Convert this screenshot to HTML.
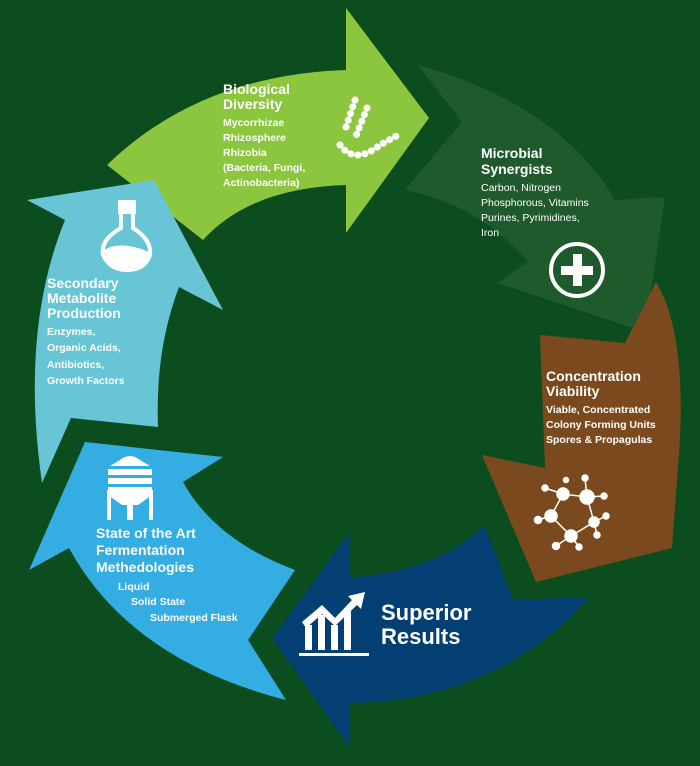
<!DOCTYPE html>
<html><head><meta charset="utf-8"><style>
html,body{margin:0;padding:0;background:#0c4d1f;}
svg{display:block}
text{font-family:"Liberation Sans",sans-serif;fill:#fff;}
.h{font-weight:bold;font-size:14px}
.s{font-size:10.5px;font-weight:bold}
.r{font-size:10.5px}
</style></head><body>
<svg width="700" height="766" viewBox="0 0 700 766" xmlns="http://www.w3.org/2000/svg">
<rect width="700" height="766" fill="#0c4d1f"/>
<!-- dark green -->
<path d="M418,65 Q560,105 615,200 L665,197 L645,332 L498,283 L528,262 Q480,205 405,190 L462,122 Z" fill="#1e5a2c"/>
<!-- light green -->
<path d="M107,165 Q200,75 346,70 L346,8 L429,118 L346,233 L346,185 Q250,188 203,240 Z" fill="#8cc63f"/>
<!-- brown -->
<path d="M540,335 L625,343 L656,282 Q685,330 680,440 L672,548 L536,582 L482,455 L545,468 Z" fill="#7a4a1e"/>
<!-- navy -->
<path d="M484,525 L513,600 L589,597 Q500,700 350,703 L350,748 L272,638 L350,532 L350,578 Q440,570 484,525 Z" fill="#033f72"/>
<!-- blue -->
<path d="M85,442 L223,457 L183,482 Q215,540 295,570 L248,640 L286,700 Q130,660 69,548 L29,570 Z" fill="#34ade2"/>
<!-- light blue -->
<path d="M154,180 L223,310 L179,287 Q155,350 158,427 L71,418 L42,483 Q20,330 65,220 L27,200 Z" fill="#67c5d5"/>

<!-- texts -->
<text class="h" x="223" y="94">Biological</text>
<text class="h" x="223" y="109">Diversity</text>
<text class="s" x="223" y="126">Mycorrhizae</text>
<text class="s" x="223" y="141">Rhizosphere</text>
<text class="s" x="223" y="156">Rhizobia</text>
<text class="s" x="223" y="171">(Bacteria, Fungi,</text>
<text class="s" x="223" y="186">Actinobacteria)</text>

<text class="h" x="481" y="158">Microbial</text>
<text class="h" x="481" y="174">Synergists</text>
<text class="r" x="481" y="191">Carbon, Nitrogen</text>
<text class="r" x="481" y="206">Phosphorous, Vitamins</text>
<text class="r" x="481" y="221">Purines, Pyrimidines,</text>
<text class="r" x="481" y="236">Iron</text>

<text class="h" x="47" y="288">Secondary</text>
<text class="h" x="47" y="303">Metabolite</text>
<text class="h" x="47" y="318">Production</text>
<text class="s" x="47" y="335">Enzymes,</text>
<text class="s" x="47" y="351">Organic Acids,</text>
<text class="s" x="47" y="368">Antibiotics,</text>
<text class="s" x="47" y="384">Growth Factors</text>

<text class="h" x="546" y="381">Concentration</text>
<text class="h" x="546" y="396">Viability</text>
<text class="s" x="546" y="413">Viable, Concentrated</text>
<text class="s" x="546" y="428">Colony Forming Units</text>
<text class="s" x="546" y="443">Spores &amp; Propagulas</text>

<text class="h" x="96" y="538">State of the Art</text>
<text class="h" x="96" y="555">Fermentation</text>
<text class="h" x="96" y="572">Methedologies</text>
<text class="s" x="118" y="590">Liquid</text>
<text class="s" x="131" y="605">Solid State</text>
<text class="s" x="150" y="621">Submerged Flask</text>

<text x="381" y="620" style="font-weight:bold;font-size:22px">Superior</text>
<text x="381" y="644" style="font-weight:bold;font-size:22px">Results</text>

<!-- plus circle -->
<circle cx="577" cy="270" r="26" fill="none" stroke="#fff" stroke-width="4"/>
<rect x="573" y="254" width="9" height="32" fill="#fff"/>
<rect x="561" y="266" width="32" height="9" fill="#fff"/>

<!-- bacteria chains -->
<g fill="none" stroke="#fff" stroke-width="7" stroke-linecap="round" stroke-dasharray="0.1 7">
<path d="M355,100 L345,130"/>
<path d="M367,108 L356,136"/>
<path d="M340,145 Q355,165 380,145 L398,135"/>
</g>

<!-- flask -->
<g fill="none" stroke="#fff" stroke-width="4">
<rect x="120" y="202" width="14" height="10" fill="#fff"/>
<path d="M121,214 L121,228 Q100,240 103,255 Q110,270 127,270 Q145,270 150,255 Q152,240 133,228 L133,214"/>
</g>
<path d="M104,250 Q120,240 149,252 Q145,268 127,268 Q108,268 104,250 Z" fill="#fff"/>

<!-- tank -->
<g fill="#fff">
<path d="M120,460 Q130,452 140,460 L150,466 L110,466 Z"/>
<rect x="108" y="469" width="44" height="6"/>
<rect x="108" y="478" width="44" height="6"/>
<path d="M108,487 L152,487 L152,495 L138,505 L122,505 L108,495 Z"/>
<rect x="107" y="490" width="4" height="30"/>
<rect x="149" y="490" width="4" height="30"/>
<rect x="127" y="500" width="6" height="20"/>
</g>

<!-- molecule -->
<g stroke="#fff" stroke-width="1.5" fill="#fff">
<path d="M563,494 L587,497 L594,522 L571,536 L551,516 Z" fill="none"/>
<line x1="563" y1="494" x2="545" y2="488"/><line x1="587" y1="497" x2="585" y2="478"/>
<line x1="587" y1="497" x2="604" y2="496"/><line x1="594" y1="522" x2="606" y2="516"/>
<line x1="594" y1="522" x2="597" y2="535"/><line x1="571" y1="536" x2="556" y2="546"/>
<line x1="571" y1="536" x2="579" y2="547"/><line x1="551" y1="516" x2="538" y2="520"/>
<circle cx="563" cy="494" r="6"/><circle cx="587" cy="497" r="7"/><circle cx="594" cy="522" r="5"/>
<circle cx="571" cy="536" r="6"/><circle cx="551" cy="516" r="6"/>
<circle cx="545" cy="488" r="3"/><circle cx="585" cy="478" r="3"/><circle cx="604" cy="496" r="3"/>
<circle cx="606" cy="516" r="3"/><circle cx="597" cy="535" r="3"/><circle cx="556" cy="546" r="3.5"/>
<circle cx="579" cy="547" r="3"/><circle cx="538" cy="520" r="3.5"/><circle cx="566" cy="480" r="2.5"/>
</g>

<!-- chart -->
<g fill="#fff">
<rect x="299" y="653" width="70" height="3"/>
<rect x="305" y="625" width="7" height="25"/>
<rect x="318" y="615" width="7" height="35"/>
<rect x="331" y="625" width="7" height="25"/>
<rect x="344" y="610" width="7" height="40"/>
<path d="M302,622 L322,605 L335,618 L352,600 L348,596 L365,592 L361,609 L357,605 L335,626 L322,614 L306,628 Z"/>
</g>
</svg>
</body></html>
